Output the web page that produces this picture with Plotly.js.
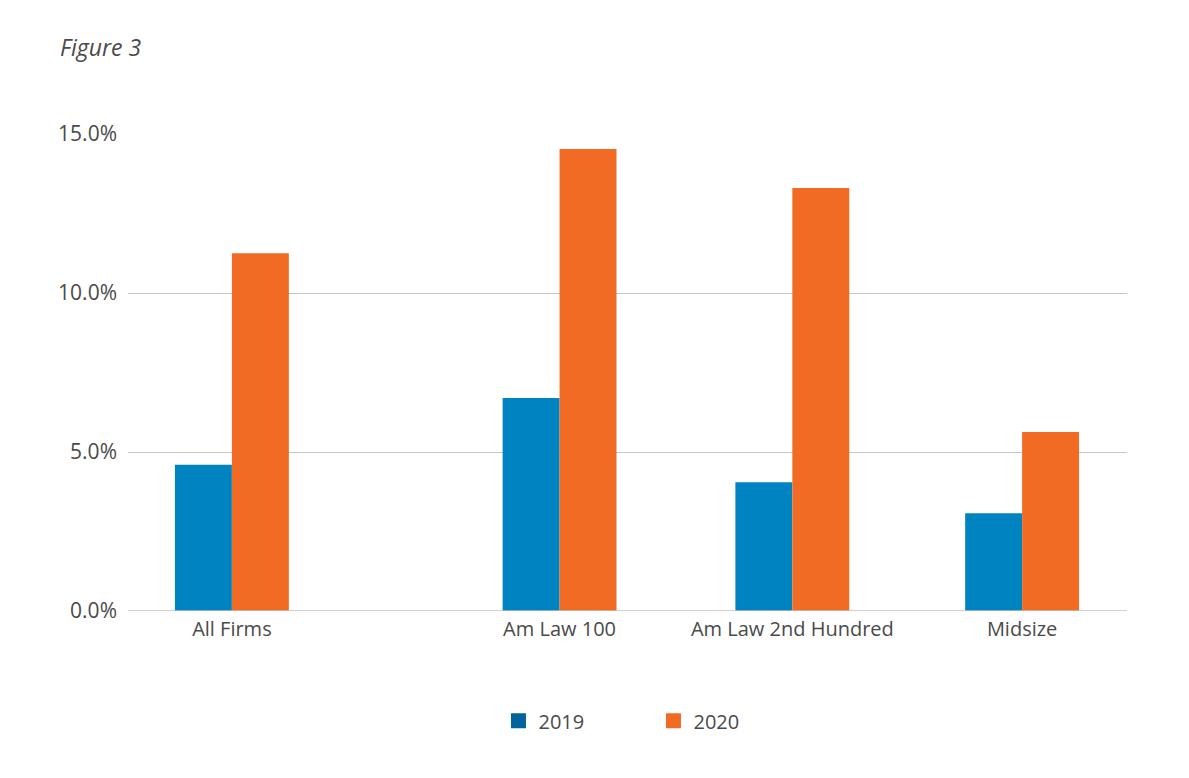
<!DOCTYPE html>
<html>
<head>
<meta charset="utf-8">
<script src="https://cdn.plot.ly/plotly-3.0.1.min.js"></script>
<style>html,body{margin:0;padding:0;background:#fff;}#chart{width:1189px;height:778px;}</style>
</head>
<body>
<div id="chart"></div>
<script>
// Data
const categories = ["All Firms", "Am Law 100", "Am Law 2nd Hundred", "Midsize"];
const values2019 = [4.6, 6.7, 4.05, 3.07];
const values2020 = [11.25, 14.53, 13.3, 5.63];
const seriesNames = ["2019", "2020"];
const yTickVals = [0, 5, 10, 15];
const yTickText = ["0.0%", "5.0%", "10.0%", "15.0%"];

// Layout: horizontal slot of each category along the axis (fraction of plot width)
const slotCenters = [0.104, 0.432, 0.665, 0.895];
const barW = 0.057;

const blue = "#0083C1", orange = "#F26B24", legendBlue = "#00639B";
const textColor = "#4a4a4a";
const font = "Open Sans, Lato, sans-serif";

const traces = [
  {type: "bar", x: slotCenters, y: values2019, width: barW, offset: -barW,
   marker: {color: blue}, showlegend: false, name: seriesNames[0], hoverinfo: "y"},
  {type: "bar", x: slotCenters, y: values2020, width: barW, offset: 0,
   marker: {color: orange}, showlegend: false, name: seriesNames[1], hoverinfo: "y"},
  {type: "scatter", mode: "markers", x: [null], y: [null], name: seriesNames[0],
   marker: {symbol: "square", size: 15, color: legendBlue}},
  {type: "scatter", mode: "markers", x: [null], y: [null], name: seriesNames[1],
   marker: {symbol: "square", size: 15, color: orange}}
];

const layout = {
  width: 1189, height: 778,
  margin: {l: 128, r: 62, t: 134, b: 167, pad: 0},
  paper_bgcolor: "#fff", plot_bgcolor: "#fff",
  font: {family: font, color: textColor, size: 20},
  title: {text: "<i>Figure 3</i>", x: 60/1189, xanchor: "left", xref: "container",
          y: 1 - 48/778, yanchor: "middle", yref: "container",
          font: {family: font, size: 23, color: textColor}},
  barmode: "overlay",
  xaxis: {range: [0, 1], tickmode: "array", tickvals: slotCenters, ticktext: categories,
          showgrid: false, zeroline: false, showline: false, ticks: "",
          ticklabelstandoff: 4,
          tickfont: {size: 20, color: textColor}, fixedrange: true},
  yaxis: {range: [0, 15], tickmode: "array", tickvals: yTickVals, ticktext: yTickText,
          showgrid: true, gridcolor: "#c6c6c6", gridwidth: 1, zeroline: false,
          showline: false, ticks: "", ticklabelstandoff: 10,
          tickfont: {size: 21, color: textColor}, fixedrange: true},
  shapes: [{type: "line", xref: "paper", yref: "y", x0: 0, x1: 1, y0: 0, y1: 0,
            line: {color: "#c0c0c0", width: 1.5}, layer: "above"}],
  showlegend: true,
  legend: {orientation: "h", x: 0.526, xanchor: "center", y: -0.23, yanchor: "middle",
           entrywidth: 110, entrywidthmode: "pixels", itemwidth: 30,
           font: {size: 20, color: textColor}, bgcolor: "rgba(0,0,0,0)"}
};

Plotly.newPlot("chart", traces, layout, {displayModeBar: false, staticPlot: true});
</script>
</body>
</html>
